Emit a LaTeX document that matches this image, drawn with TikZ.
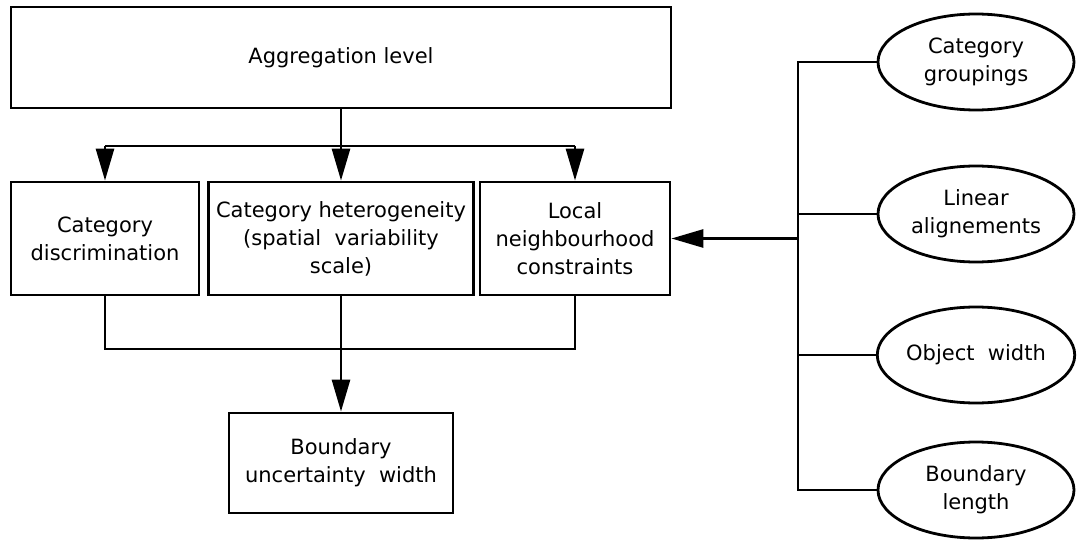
\documentclass[tikz,border=0pt]{standalone}
\usepackage{fontspec}
\setmainfont{DejaVu Sans}
\usetikzlibrary{shapes.geometric,arrows.meta}
\tikzset{
  stroke/.style={line width=1.4pt},
  boxnode/.style={draw, stroke, align=center, inner sep=0pt, font=\fontsize{10.5}{14}\selectfont},
  ellnode/.style={draw, stroke, ellipse, align=center, inner sep=0pt, minimum width=98pt, minimum height=48pt, font=\fontsize{10.5}{14}\selectfont},
  arr/.style={stroke, -{Triangle[length=16pt,width=9pt]}},
}
\begin{document}
\begin{tikzpicture}[x=0.5pt,y=-0.5pt]
\useasboundingbox (0,0) rectangle (1082,540);
\node[boxnode, minimum width=330pt, minimum height=50.5pt] (top) at (341,57.5) {Aggregation level};
\node[boxnode, minimum width=94pt, minimum height=56.5pt] (b1) at (105,238.5) {Category\\discrimination};
\node[boxnode, minimum width=132.5pt, minimum height=56.5pt] (b2) at (341,238.5) {Category heterogeneity\\(spatial\ \ variability\\scale)};
\node[boxnode, minimum width=95pt, minimum height=56.5pt] (b3) at (575,238.5) {Local\\neighbourhood\\constraints};
\node[boxnode, minimum width=112pt, minimum height=50pt] (b4) at (341,463) {Boundary\\uncertainty\ \ width};
\node[ellnode] (e1) at (976,62) {Category\\groupings};
\node[ellnode] (e2) at (976,214) {Linear\\alignements};
\node[ellnode] (e3) at (976,355) {Object\ \ width};
\node[ellnode] (e4) at (976,490) {Boundary\\length};
\coordinate (split) at (341,146);
\coordinate (join) at (341,349);
\coordinate (busx) at (798,0);
\draw[stroke] (top.south) -- (split);
\draw[stroke] (split -| b1) -- (split -| b3);
\draw[arr] (split -| b1) -- (b1.north);
\draw[arr] (split) -- (b2.north);
\draw[arr] (split -| b3) -- (b3.north);
\draw[stroke] (b1.south) -- (b1.south |- join) -- (b3.south |- join) -- (b3.south);
\draw[arr] (b2.south) -- (b4.north);
\draw[stroke] (e1.west) -- (e1.west -| busx) -- (e4.west -| busx) -- (e4.west);
\draw[stroke] (e2.west) -- (e2.west -| busx);
\draw[stroke] (e3.west) -- (e3.west -| busx);
\draw[arr] (b3.east -| busx) -- (b3.east);
\end{tikzpicture}
\end{document}
